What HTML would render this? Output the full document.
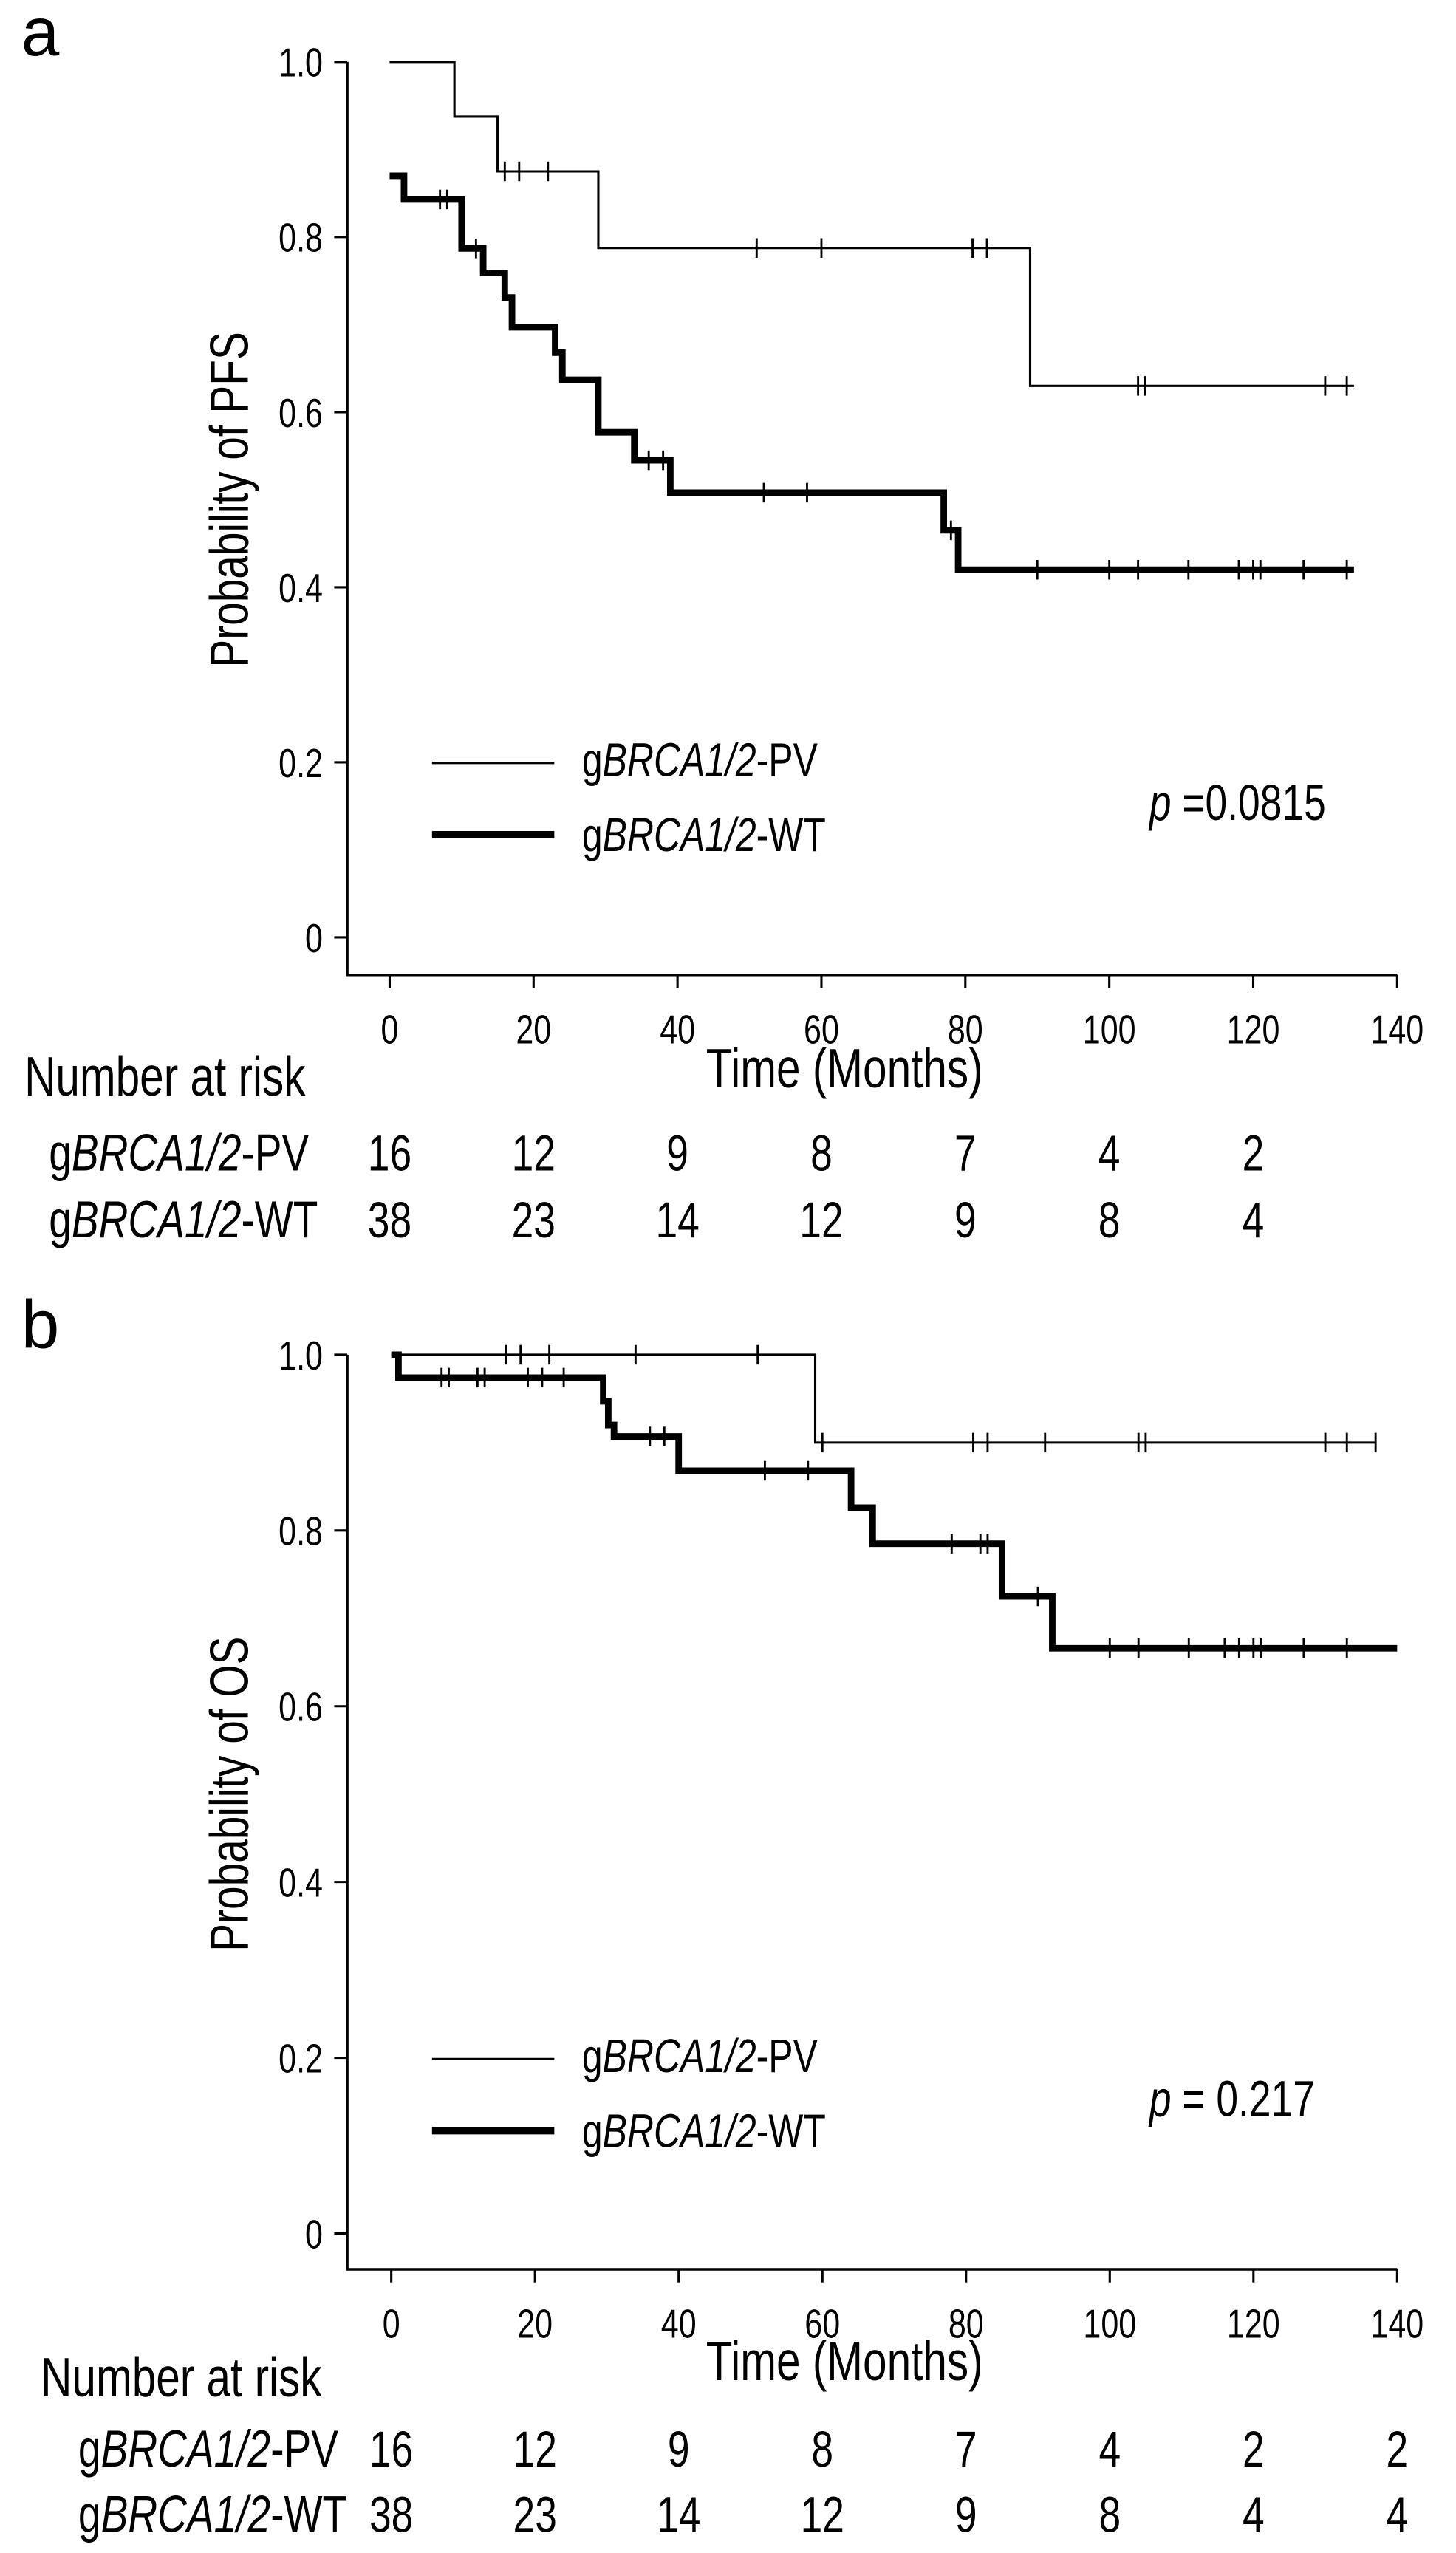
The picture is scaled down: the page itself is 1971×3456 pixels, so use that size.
<!DOCTYPE html>
<html><head><meta charset="utf-8"><style>
html,body{margin:0;padding:0;background:#fff;}
svg{display:block;}
text{font-family:"Liberation Sans",Arial,sans-serif;fill:#000;}
</style></head><body>
<svg id="s" width="1971" height="3456" viewBox="0 0 893.1 1566" preserveAspectRatio="none" xmlns="http://www.w3.org/2000/svg"></svg>
<script>
const s=document.getElementById('s');let h='';
const SX=0.78;
function T(x,y,sz,c,anc){return `<text transform="translate(${x} ${y}) scale(${SX} 1)" font-size="${sz}" text-anchor="${anc||'start'}">${c}</text>`;}
function panel(o){
 const X=t=>o.x0+(o.x1-o.x0)*t/140, Y=p=>o.y0-(o.y0-o.y1)*p;
 h+=`<text x="13" y="${o.y1-4}" font-size="42">${o.lab}</text>`;
 h+=`<path d="M213 ${o.y1} V${o.ax} H${o.x1}" fill="none" stroke="#000" stroke-width="1.6"/>`;
 for(let i=0;i<=5;i++){const y=Y(i/5);h+=`<line x1="205" x2="213" y1="${y}" y2="${y}" stroke="#000" stroke-width="1.4"/>`+T(198,y+9,25,i==0?'0':(i/5).toFixed(1),'end');}
 for(let t=0;t<=140;t+=20){const x=X(t);h+=`<line x1="${x}" x2="${x}" y1="${o.ax}" y2="${o.ax+8}" stroke="#000" stroke-width="1.4"/>`+T(x,o.ax+42,25,t,'middle');}
 h+=T(518,o.ax+o.tY,34,'Time (Months)','middle');
 h+=`<text transform="translate(152 ${(o.y0+o.y1)/2}) rotate(-90) scale(${SX} 1)" font-size="33" text-anchor="middle">${o.yl}</text>`;
 const curve=(steps,end,w)=>{let d=`M${X(0)} ${Y(steps[0][1])}`;for(let i=1;i<steps.length;i++){d+=` H${X(steps[i][0])} V${Y(steps[i][1])}`;}d+=` H${X(end)}`;h+=`<path d="${d}" fill="none" stroke="#000" stroke-width="${w}"/>`;};
 const cens=(arr)=>{arr.forEach(([t,p])=>{const x=X(t),y=Y(p);h+=`<line x1="${x}" x2="${x}" y1="${y-6}" y2="${y+6}" stroke="#000" stroke-width="1.3"/>`;});};
 curve(o.pv,o.pvEnd,1.4);cens(o.pvC);
 curve(o.wt,o.wtEnd,4);cens(o.wtC);
 const g=k=>`g<tspan font-style="italic">BRCA1/2</tspan>-${k}`;
 h+=`<line x1="265" x2="340" y1="${o.y0-107}" y2="${o.y0-107}" stroke="#000" stroke-width="1.4"/>`+T(357,o.y0-99,29,g('PV'));
 h+=`<line x1="265" x2="340" y1="${o.y0-63}" y2="${o.y0-63}" stroke="#000" stroke-width="4.5"/>`+T(357,o.y0-53,29,g('WT'));
 h+=T(705,o.y0-72,31,`<tspan font-style="italic">p</tspan> ${o.p}`);
 h+=T(o.nx,o.ax+o.nY,34,'Number at risk');
 [['PV',o.rpv,o.r1],['WT',o.rwt,o.r2]].forEach(([k,arr,y])=>{h+=T(o.lx,y,32,g(k));arr.forEach((v,i)=>{h+=T(X(i*20),y,31,v,'middle');});});
}
panel({lab:'a',x0:239,x1:857,y0:575,y1:38,ax:598,tY:69,nY:74,yl:'Probability of PFS',p:'=0.0815',nx:15,lx:30,r1:718,r2:759,
 pv:[[0,1],[9,0.9375],[15,0.875],[29,0.7875],[89,0.63]],pvEnd:134,
 pvC:[[16,.875],[18,.875],[22,.875],[51,.7875],[60,.7875],[81,.7875],[83,.7875],[104,.63],[105,.63],[130,.63],[133,.63]],
 wt:[[0,.87],[2,.843],[10,.787],[13,.759],[16,.731],[17,.697],[23,.668],[24,.637],[29,.577],[34,.545],[39,.508],[77,.465],[79,.42]],wtEnd:134,
 wtC:[[7,.843],[8,.843],[12,.787],[36,.545],[38,.545],[52,.508],[58,.508],[78,.465],[90,.42],[100,.42],[104,.42],[111,.42],[118,.42],[120,.42],[121,.42],[127,.42],[133,.42]],
 rpv:[16,12,9,8,7,4,2],rwt:[38,23,14,12,9,8,4]});
panel({lab:'b',x0:240,x1:857,y0:1370,y1:831,ax:1392,tY:68,nY:78,yl:'Probability of OS',p:'= 0.217',nx:25,lx:48,r1:1513,r2:1553,
 pv:[[0,1],[59,0.9]],pvEnd:137,
 pvC:[[16,1],[18,1],[22,1],[34,1],[51,1],[60,.9],[81,.9],[83,.9],[91,.9],[104,.9],[105,.9],[130,.9],[133,.9],[137,.9]],
 wt:[[0,1],[1,.974],[29.5,.947],[30.2,.92],[31,.907],[40,.868],[64,.826],[67,.785],[85,.725],[92,.666]],wtEnd:140,
 wtC:[[7,.974],[8,.974],[12,.974],[13,.974],[19,.974],[21,.974],[24,.974],[36,.907],[38,.907],[52,.868],[58,.868],[78,.785],[82,.785],[83,.785],[90,.725],[100,.666],[104,.666],[111,.666],[116,.666],[118,.666],[120,.666],[121,.666],[127,.666],[133,.666]],
 rpv:[16,12,9,8,7,4,2,2],rwt:[38,23,14,12,9,8,4,4]});
s.innerHTML=h;
</script>
</body></html>
